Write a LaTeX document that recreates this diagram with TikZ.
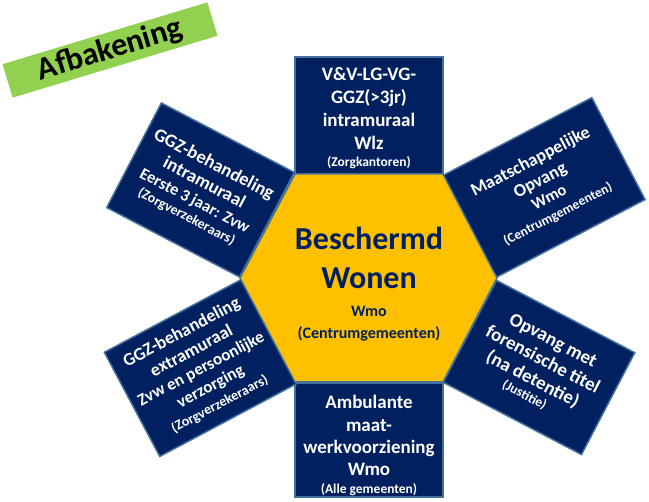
\documentclass[tikz,border=0pt]{standalone}
\usepackage{fontspec}
\setmainfont{Carlito}
\usepackage{tikz}

\definecolor{navy}{HTML}{002060}
\definecolor{gold}{HTML}{FFC000}
\definecolor{rim}{HTML}{41719C}
\definecolor{lime}{HTML}{92D050}
\newcommand{\fs}[2]{\fontsize{#1}{#2}\selectfont}

\begin{document}
\begin{tikzpicture}[x=1pt, y=-1pt,
    box/.style={draw=rim, line width=1.5pt, fill=navy, text=white, align=center, inner sep=0pt},
    hexa/.style={draw=rim, line width=1.5pt, fill=gold}]
    \useasboundingbox (0,0) rectangle (649,502);

    \node [fill=lime, rotate=16.8, minimum width=214, minimum height=34, font=\bfseries\fs{32}{36}] (title) at (110,50) {Afbakening};

    % boxes round the hexagon
    \node [box, minimum width=148, minimum height=118, font=\bfseries\fs{19}{23}] (wlz) at (369,116) {};
    \node [align=center, text=white, font=\bfseries\fs{19}{23}] (wlztext) at (369,118) {V\&V-LG-VG-\\GGZ(>3jr)\\intramuraal\\Wlz\\[-6pt]\fs{13.5}{23}(Zorgkantoren)};
    \node [box, minimum width=148, minimum height=114] (amb) at (369,440) {};
    \node [align=center, text=white, font=\bfseries\fs{19}{22}] (ambtext) at (369,445) {Ambulante\\[1pt]maat-\\werkvoorziening\\Wmo\\[-4pt]\fs{13.5}{22}(Alle gemeenten)};
    \node [box, minimum width=150, minimum height=118, rotate=-27.6, font=\bfseries\fs{18.5}{21}] (ggzin) at (200.5,190) {GGZ-behandeling\\intramuraal\\[-1pt]\fs{16.5}{21}Eerste 3 jaar: Zvw\\[-4pt]\fs{14}{21}(Zorgverzekeraars)};
    \node [box, minimum width=168, minimum height=115, rotate=27.6, font=\bfseries\fs{18}{21}] (mo) at (544,187.5) {Maatschappelijke\\Opvang\\[-2pt]\fs{16.5}{21}Wmo\\[-3pt]\fs{13.5}{21}(Centrumgemeenten)};
    \node [box, minimum width=155, minimum height=118, rotate=28, font=\bfseries\fs{18}{21}] (ggzex) at (200.5,368) {GGZ-behandeling\\extramuraal\\[-1pt]\fs{17}{21}Zvw en persoonlijke\\[-1pt]\fs{17}{21}verzorging\\[-2pt]\fs{14}{21}(Zorgverzekeraars)};
    \node [box, minimum width=156, minimum height=115, rotate=-27.6, font=\bfseries\fs{19}{22}] (fors) at (539,367.5) {Opvang met\\forensische titel\\(na detentie)\\[-6pt]\fs{13.5}{22}(Justitie)};

    % hexagon in the middle
    \coordinate (h1) at (240,278);
    \coordinate (h2) at (295,174);
    \coordinate (h3) at (443,174);
    \coordinate (h4) at (497,278);
    \coordinate (h5) at (443,382);
    \coordinate (h6) at (295,382);
    \draw [hexa] (h1) -- (h2) -- (h3) -- (h4) -- (h5) -- (h6) -- cycle;

    \node [align=center, text=navy, font=\bfseries\fs{32}{39}] (bw) at (369,284) {Beschermd\\Wonen\\[-11pt]\fs{16}{39}Wmo\\[-17pt]\fs{16}{39}(Centrumgemeenten)};
\end{tikzpicture}
\end{document}
